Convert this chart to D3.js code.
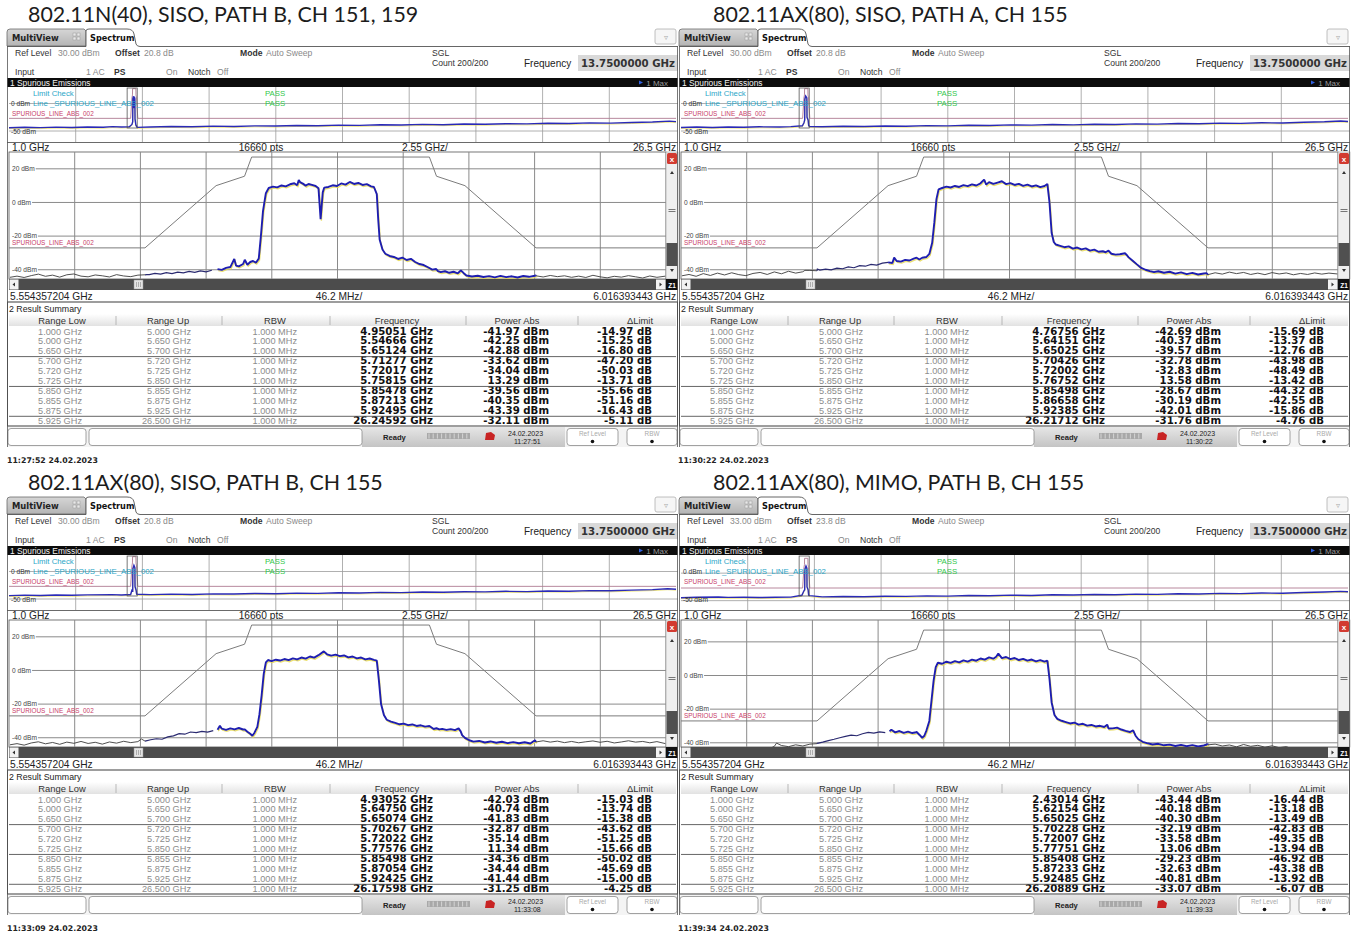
<!DOCTYPE html>
<html>
<head>
<meta charset="utf-8">
<script src="https://cdn.jsdelivr.net/npm/d3@7"></script>
<style>
  html, body { margin: 0; padding: 0; background: #fff; }
  svg { display: block; }
</style>
</head>
<body>
<svg id="chart" width="1359" height="936"></svg>
<script>
// ---------- measurement setup ----------
const titles = [
  "802.11N(40), SISO, PATH B, CH 151, 159",
  "802.11AX(80), SISO, PATH A, CH 155",
  "802.11AX(80), SISO, PATH B, CH 155",
  "802.11AX(80), MIMO, PATH B, CH 155"
];
const refLevels = [30, 30, 30, 33];
const offsetsDb = ["20.8", "20.8", "20.8", "23.8"];
const statusTimes = ["11:27:51", "11:30:22", "11:33:08", "11:39:33"];
const footerTimes = ["11:27:52", "11:30:22", "11:33:09", "11:39:34"];
const measDate = "24.02.2023";

// zoomed span (MHz) and full sweep span (GHz)
const zoomSpanMHz = [5554.357204, 6016.393443];
const fullSpanGHz = [1.0, 26.5];
const mainGridDbm = [20, 0, -20, -40];
const overviewGridDbm = [0, -50];

// result summary ranges
const rangeLowGHz = [1.000, 5.000, 5.650, 5.700, 5.720, 5.725, 5.850, 5.855, 5.875, 5.925];
const rangeUpGHz  = [5.000, 5.650, 5.700, 5.720, 5.725, 5.850, 5.855, 5.875, 5.925, 26.500];
const rbwMHz = 1.000;

// result summary: peak frequency (GHz), power (dBm), margin to limit (dB)
const peakFreqN40B = [4.95051, 5.54666, 5.65124, 5.71277, 5.72017, 5.75815, 5.85478, 5.87213, 5.92495, 26.24592];
const peakPowN40B  = [-41.97, -42.25, -42.88, -33.62, -34.04, 13.29, -39.56, -40.35, -43.39, -32.11];
const deltaN40B    = [-14.97, -15.25, -16.80, -47.20, -50.03, -13.71, -55.66, -51.16, -16.43, -5.11];

const peakFreqAX80A = [4.76756, 5.64151, 5.65025, 5.70426, 5.72002, 5.76752, 5.85498, 5.86658, 5.92385, 26.21712];
const peakPowAX80A  = [-42.69, -40.37, -39.57, -32.78, -32.83, 13.58, -28.67, -30.19, -42.01, -31.76];
const deltaAX80A    = [-15.69, -13.37, -12.76, -43.98, -48.49, -13.42, -44.32, -42.55, -15.86, -4.76];

const peakFreqAX80B = [4.93052, 5.64750, 5.65074, 5.70267, 5.72022, 5.77576, 5.85498, 5.87054, 5.92425, 26.17598];
const peakPowAX80B  = [-42.03, -40.74, -41.83, -32.87, -35.14, 11.34, -34.36, -34.44, -41.44, -31.25];
const deltaAX80B    = [-15.03, -13.74, -15.38, -43.62, -51.25, -15.66, -50.02, -45.69, -15.00, -4.25];

const peakFreqMIMO = [2.43014, 5.62154, 5.65025, 5.70228, 5.72007, 5.77751, 5.85408, 5.87233, 5.92485, 26.20889];
const peakPowMIMO  = [-43.44, -40.18, -40.30, -32.19, -33.58, 13.06, -29.23, -32.63, -40.81, -33.07];
const deltaMIMO    = [-16.44, -13.18, -13.49, -42.83, -49.35, -13.94, -46.92, -43.38, -13.92, -6.07];

// spurious emission limit line (MHz, dBm)
const limitFreqMHz = [5554.357204, 5650, 5700, 5720, 5725, 5850, 5855, 5875, 5925, 6016.393443];
const limitDbm     = [-27, -27, 10, 15.6, 27, 27, 15.6, 10, -27, -27];

// zoomed traces (MHz, dBm)
const traceN40B = [
  [5555,-44.5],[5560,-43.8],[5565,-44.6],[5570,-43.5],[5575,-42.6],[5580,-43.9],[5585,-43.2],[5590,-44.4],
  [5595,-43.0],[5600,-42.5],[5605,-43.8],[5610,-44.2],[5615,-43.1],[5620,-43.6],[5625,-44.3],[5630,-42.9],
  [5635,-43.7],[5640,-44.1],[5645,-43.2],[5650,-43.0],
  [5653,-42.9],[5657,-42.2],[5661,-42.6],[5665,-41.7],[5669,-42.3],[5673,-41.4],[5677,-41.9],[5681,-41.0],
  [5685,-41.6],[5689,-40.7],[5693,-41.2],[5697,-40.3],[5701,-39.6],[5704,-40.1],[5707,-38.9],[5710,-38.4],
  [5714,-37.5],[5716,-38.0],[5719,-36.6],[5722,-37.0],[5724,-35.4],[5726,-34.8],[5728,-35.8],[5730,-33.4],
  [5731.5,-20],[5733,-5],[5735,5.5],[5737,8.6],[5740,9.4],[5743,9.0],[5746,10.1],[5749,9.6],[5752,10.8],
  [5755,11.4],[5757,10.2],[5759,12.1],[5761,11.2],[5763,10.0],[5765,11.0],[5768,10.3],[5770,9.8],[5772,8.5],
  [5773.5,-10],[5775,6.0],[5776,8.8],[5779,9.2],[5782,10.2],[5785,9.8],[5788,11.3],[5791,10.6],[5794,12.2],
  [5797,11.0],[5800,11.6],[5803,10.4],[5806,10.9],[5809,9.6],[5811,9.2],[5813,5],[5814,-10],[5815,-22],
  [5817,-28],[5819,-30.5],[5822,-31.8],[5825,-32.4],[5828,-33.6],[5831,-32.8],[5834,-34.2],[5837,-33.5],
  [5840,-35.4],[5843,-36.6],[5846,-37.2],[5849,-38.5],[5852,-39.9],[5856,-40.8],[5858,-41.4],[5861,-40.9],
  [5864,-41.8],[5867,-41.2],[5870,-42.1],[5874,-41.9],[5876,-43.4],[5880,-44.0],[5884,-43.6],[5888,-44.3],
  [5892,-43.8],[5896,-44.5],[5900,-43.6],[5904,-44.4],[5908,-43.9],[5912,-44.6],[5916,-43.7],[5920,-44.2],
  [5925,-43.6],
  [5930,-44.3],[5935,-43.4],[5940,-44.1],[5945,-43.6],[5950,-44.5],[5955,-43.8],[5960,-44.6],[5965,-43.3],
  [5970,-44.2],[5975,-44.8],[5980,-43.9],[5985,-44.4],[5990,-43.5],[5995,-44.2],[6000,-44.9],[6005,-43.7],
  [6010,-44.5],[6016,-43.8]
];
const traceAX80A = [
  [5555,-43.6],[5560,-42.8],[5565,-43.9],[5570,-42.3],[5575,-43.4],[5580,-42.0],[5585,-43.1],[5590,-41.8],
  [5595,-42.9],[5600,-43.5],[5605,-42.2],[5610,-41.6],[5615,-42.8],[5620,-41.3],[5625,-42.4],[5630,-40.9],
  [5635,-42.0],[5640,-41.2],[5645,-40.4],[5650,-40.6],
  [5652,-40.2],[5656,-39.6],[5660,-40.1],[5664,-39.0],[5668,-39.4],[5672,-38.3],[5676,-38.8],[5680,-37.6],
  [5684,-37.9],[5688,-36.8],[5692,-37.2],[5696,-36.1],[5700,-35.6],[5703,-36.0],[5706,-34.8],[5709,-35.2],
  [5712,-34.1],[5715,-34.5],[5718,-33.4],[5722,-33.9],[5724,-32.9],[5727,-32.4],[5729,-30.6],[5731,-24],
  [5732.5,-12],[5734,2],[5735.5,7.8],[5738,8.6],[5741,9.4],[5744,8.9],[5747,9.8],[5750,9.2],[5753,10.3],
  [5756,9.7],[5759,10.8],[5762,10.1],[5765,11.4],[5769,10.6],[5771,12.1],[5774,11.0],[5777,11.8],[5780,12.6],
  [5783,10.9],[5786,11.5],[5789,10.4],[5792,11.1],[5795,9.9],[5798,10.6],[5801,9.5],[5804,10.2],[5807,9.1],
  [5810,9.8],[5812,11.0],[5813.5,0],[5815,-18],[5816.5,-23.5],[5818,-25.0],[5821,-25.8],[5824,-26.6],
  [5827,-26.1],[5830,-27.4],[5833,-26.8],[5836,-27.9],[5839,-27.3],[5842,-28.6],[5845,-28.0],[5848,-29.3],
  [5851,-29.0],[5853,-29.6],[5857,-30.5],[5860,-31.0],[5863,-30.8],[5868,-31.4],[5869,-32.5],[5872,-34.6],
  [5875,-36.8],[5878,-38.9],[5881,-40.0],[5884,-40.8],[5887,-41.4],[5890,-40.9],[5894,-41.8],[5898,-41.2],
  [5902,-42.3],[5906,-41.6],[5910,-42.6],[5914,-41.9],[5918,-42.8],[5922,-42.2],[5925,-42.9],
  [5930,-41.8],[5935,-42.6],[5940,-41.4],[5945,-42.3],[5950,-41.6],[5955,-42.8],[5960,-42.0],[5965,-42.9],
  [5970,-41.7],[5975,-42.5],[5980,-41.9],[5985,-43.0],[5990,-42.2],[5995,-42.8],[6000,-41.9],[6005,-42.6],
  [6010,-42.0],[6016,-42.5]
];
const traceAX80B = [
  [5555,-44.2],[5560,-43.5],[5565,-44.4],[5570,-43.1],[5575,-42.4],[5580,-43.6],[5585,-42.8],[5590,-43.9],
  [5595,-42.6],[5600,-43.3],[5605,-42.2],[5610,-43.4],[5615,-42.7],[5620,-43.8],[5625,-42.5],[5630,-43.2],
  [5635,-42.1],[5640,-42.9],[5645,-42.3],[5650,-42.0],
  [5654,-41.2],[5658,-40.6],[5662,-40.9],[5666,-39.5],[5670,-38.9],[5674,-37.6],[5678,-37.9],[5682,-36.6],
  [5686,-37.0],[5690,-36.2],[5694,-36.7],[5698,-35.8],[5701,-35.2],[5704,-34.6],[5707,-35.3],[5710,-34.4],
  [5713,-35.0],[5716,-34.2],[5719,-35.1],[5722,-36.4],[5724,-37.6],[5725.5,-38.8],[5727,-37.0],[5729,-33.5],
  [5730.5,-26],[5732,-15],[5733.5,-2],[5735,4.8],[5736.5,6.2],[5739,5.6],[5742,6.4],[5745,5.9],[5748,6.8],
  [5751,6.1],[5754,7.2],[5757,6.6],[5760,7.7],[5763,7.0],[5766,8.3],[5769,7.6],[5772,9.1],[5778,9.6],
  [5781,8.8],[5784,9.4],[5787,8.5],[5790,8.9],[5793,7.8],[5796,8.3],[5799,7.2],[5802,7.7],[5805,6.6],
  [5808,7.1],[5811,6.3],[5813,5.8],[5814.5,-6],[5816,-20],[5818,-26.5],[5820,-29.3],[5823,-30.4],[5826,-31.2],
  [5829,-32.0],[5832,-31.6],[5835,-32.5],[5838,-32.1],[5841,-33.0],[5844,-32.6],[5847,-33.4],[5850,-33.0],
  [5853,-34.8],[5857,-35.0],[5859,-34.7],[5862,-35.3],[5865,-34.9],[5868,-35.5],[5872,-36.2],[5873,-38.4],
  [5875,-40.1],[5878,-41.5],[5881,-42.3],[5885,-41.9],[5889,-42.8],[5893,-42.2],[5897,-43.0],[5901,-42.4],
  [5905,-43.2],[5909,-42.6],[5913,-43.3],[5917,-42.7],[5921,-43.4],[5925,-42.5],
  [5930,-41.8],[5935,-42.6],[5940,-42.0],[5945,-42.9],[5950,-42.2],[5955,-43.0],[5960,-42.4],[5965,-41.9],
  [5970,-42.7],[5975,-42.1],[5980,-43.1],[5985,-42.5],[5990,-41.8],[5995,-42.6],[6000,-42.2],[6005,-43.0],
  [6010,-42.3],[6016,-43.5]
];
const traceMIMO = [
  [5555,-45.0],[5560,-44.2],[5565,-45.3],[5570,-44.0],[5575,-44.8],[5580,-43.9],[5585,-45.1],[5590,-44.3],
  [5595,-44.9],[5600,-43.8],[5605,-44.6],[5610,-43.5],[5615,-44.2],[5620,-42.1],[5625,-41.6],[5630,-42.3],
  [5635,-41.2],[5640,-41.9],[5645,-40.8],[5650,-40.5],
  [5654,-39.6],[5658,-38.7],[5662,-37.9],[5666,-37.0],[5670,-36.2],[5674,-35.4],[5678,-35.8],[5682,-34.6],
  [5686,-33.8],[5690,-34.3],[5694,-33.5],[5698,-34.0],[5701,-33.2],[5705,-33.8],[5708,-33.0],[5711,-34.1],
  [5714,-33.4],[5717,-34.2],[5719,-33.9],[5722,-35.2],[5724,-37.0],[5725.5,-35.8],[5727,-32.6],[5729,-27],
  [5730.5,-15],[5732,-3],[5733.5,5.0],[5735,7.6],[5738,7.0],[5741,8.2],[5744,7.5],[5747,8.6],[5750,7.8],
  [5753,9.0],[5756,8.3],[5759,9.4],[5762,8.8],[5765,10.1],[5768,9.4],[5771,10.8],[5774,10.0],[5776,11.2],
  [5780,10.3],[5783,11.0],[5786,9.7],[5789,10.4],[5792,9.2],[5795,9.9],[5798,8.8],[5801,9.5],[5804,8.4],
  [5807,9.1],[5810,8.2],[5812,8.9],[5813.5,-2],[5815,-16],[5817,-23.5],[5819,-25.8],[5822,-26.9],[5825,-27.7],
  [5828,-28.5],[5831,-28.0],[5834,-29.2],[5837,-28.7],[5840,-29.8],[5843,-29.4],[5846,-30.3],[5849,-29.9],
  [5852,-30.6],[5855,-31.5],[5858,-31.4],[5861,-31.0],[5864,-32.1],[5867,-32.9],[5870,-33.6],[5874,-35.8],
  [5876,-37.9],[5879,-39.4],[5882,-40.2],[5886,-41.0],[5890,-40.6],[5894,-41.5],[5898,-41.1],[5902,-41.9],
  [5906,-41.3],[5910,-42.0],[5914,-41.4],[5918,-42.2],[5922,-41.6],[5925,-41.2],
  [5930,-40.8],[5935,-41.9],[5940,-41.3],[5945,-42.4],[5950,-41.0],[5955,-42.1],[5960,-41.5],[5965,-42.6],
  [5970,-41.8],[5975,-42.9],[5980,-42.3],[5985,-43.8],[5990,-44.6],[5995,-43.9],[6000,-44.8],[6005,-44.2],
  [6010,-45.0],[6016,-44.5]
];

// full-span overview traces (GHz, dBm)
const overviewN40B = [
  [1.0,-44.0],[1.6,-43.1],[2.2,-43.8],[2.8,-42.9],[3.4,-43.5],[4.0,-42.6],[4.6,-43.2],[4.95,-42.0],[5.3,-42.7],
  [5.6,-42.3],[5.70,-38],[5.73,-33],[5.735,9],[5.76,13.3],[5.775,-8],[5.79,12.1],[5.812,9],[5.818,-28],
  [5.85,-39],[5.9,-43.4],[6.4,-42.6],[7.2,-41.8],[8.0,-42.3],[8.8,-41.2],[9.6,-41.7],[10.4,-40.6],[11.2,-41.0],
  [12.0,-39.9],[12.8,-40.4],[13.6,-39.3],[14.4,-39.8],[15.2,-38.7],[16.0,-39.1],[16.8,-38.0],[17.6,-38.5],
  [18.4,-37.4],[19.2,-37.8],[20.0,-36.7],[20.8,-37.1],[21.6,-36.0],[22.4,-36.4],[23.2,-35.3],[24.0,-35.7],
  [24.8,-34.5],[25.6,-33.6],[26.25,-32.1],[26.5,-33.0]
];
const overviewAX80A = [
  [1.0,-43.6],[1.6,-42.8],[2.2,-43.5],[2.8,-42.6],[3.4,-43.2],[4.0,-42.4],[4.77,-42.7],[5.2,-42.1],[5.64,-40.4],
  [5.70,-35],[5.73,-30],[5.735,8],[5.767,13.6],[5.812,10],[5.818,-25],[5.86,-30],[5.88,-40],[5.92,-42.0],
  [6.4,-42.2],[7.2,-41.5],[8.0,-41.9],[8.8,-40.8],[9.6,-41.3],[10.4,-40.2],[11.2,-40.7],[12.0,-39.6],
  [12.8,-40.0],[13.6,-38.9],[14.4,-39.4],[15.2,-38.3],[16.0,-38.8],[16.8,-37.7],[17.6,-38.1],[18.4,-37.0],
  [19.2,-37.5],[20.0,-36.4],[20.8,-36.8],[21.6,-35.7],[22.4,-36.1],[23.2,-35.0],[24.0,-35.4],[24.8,-34.2],
  [25.6,-33.3],[26.22,-31.8],[26.5,-32.6]
];
const overviewAX80B = [
  [1.0,-43.8],[1.6,-42.9],[2.2,-43.6],[2.8,-42.7],[3.4,-43.3],[4.0,-42.5],[4.93,-42.0],[5.3,-42.6],[5.65,-41.8],
  [5.70,-34],[5.73,-35],[5.735,5],[5.776,11.3],[5.813,7],[5.818,-27],[5.86,-34],[5.88,-41],[5.92,-41.4],
  [6.4,-42.0],[7.2,-41.2],[8.0,-41.7],[8.8,-40.6],[9.6,-41.0],[10.4,-39.9],[11.2,-40.4],[12.0,-39.3],
  [12.8,-39.7],[13.6,-38.6],[14.4,-39.1],[15.2,-38.0],[16.0,-38.4],[16.8,-37.3],[17.6,-37.8],[18.4,-36.7],
  [19.2,-37.1],[20.0,-36.0],[20.8,-36.5],[21.6,-35.4],[22.4,-35.8],[23.2,-34.7],[24.0,-35.1],[24.8,-33.9],
  [25.6,-32.9],[26.18,-31.3],[26.5,-32.2]
];
const overviewMIMO = [
  [1.0,-44.6],[1.6,-43.9],[2.43,-43.4],[2.8,-44.1],[3.4,-43.7],[4.0,-44.3],[4.6,-43.8],[5.2,-43.5],[5.62,-40.2],
  [5.70,-32],[5.73,-30],[5.735,7],[5.778,13.1],[5.813,9],[5.818,-25],[5.86,-30],[5.88,-40],[5.92,-40.8],
  [6.4,-43.2],[7.2,-42.5],[8.0,-42.9],[8.8,-41.9],[9.6,-42.3],[10.4,-41.3],[11.2,-41.7],[12.0,-40.7],
  [12.8,-41.1],[13.6,-40.0],[14.4,-40.5],[15.2,-39.4],[16.0,-39.8],[16.8,-38.8],[17.6,-39.2],[18.4,-38.1],
  [19.2,-38.5],[20.0,-37.5],[20.8,-37.9],[21.6,-36.8],[22.4,-37.2],[23.2,-36.1],[24.0,-36.5],[24.8,-35.3],
  [25.6,-34.4],[26.21,-33.1],[26.5,-33.8]
];

// ---------- drawing ----------
const svg = d3.select("#chart");
svg.append("rect").attr("width", 1359).attr("height", 936).attr("fill", "#fff");

const SANS = "'Liberation Sans', Arial, sans-serif";
const BOLD = "'DejaVu Sans', Verdana, sans-serif";

function txt(g, x, y, s, o = {}) {
  return g.append("text")
    .attr("x", x).attr("y", y)
    .attr("font-family", o.family || SANS)
    .attr("font-size", o.size || 8.5)
    .attr("font-weight", o.weight || "normal")
    .attr("fill", o.fill || "#333")
    .attr("text-anchor", o.anchor || "start")
    .text(s);
}

const panels = [
  { dx: 0,   dy: 0,   titleX: 28, trace: traceN40B,  overview: overviewN40B,  freq: peakFreqN40B,  pow: peakPowN40B,  delta: deltaN40B },
  { dx: 672, dy: 0,   titleX: 41, trace: traceAX80A, overview: overviewAX80A, freq: peakFreqAX80A, pow: peakPowAX80A, delta: deltaAX80A },
  { dx: 0,   dy: 468, titleX: 28, trace: traceAX80B, overview: overviewAX80B, freq: peakFreqAX80B, pow: peakPowAX80B, delta: deltaAX80B },
  { dx: 672, dy: 468, titleX: 41, trace: traceMIMO,  overview: overviewMIMO,  freq: peakFreqMIMO,  pow: peakPowMIMO,  delta: deltaMIMO }
];
panels.forEach((p, i) => {
  p.title = titles[i]; p.ref = refLevels[i]; p.offset = offsetsDb[i];
  p.status = statusTimes[i]; p.footer = footerTimes[i]; p.id = i;
});

const defs = svg.append("defs");
const tabGrad = defs.append("linearGradient").attr("id", "tabGrad").attr("x1", 0).attr("y1", 0).attr("x2", 0).attr("y2", 1);
tabGrad.append("stop").attr("offset", 0).attr("stop-color", "#d6d6d6");
tabGrad.append("stop").attr("offset", 1).attr("stop-color", "#b4b4b4");
const hdrGrad = defs.append("linearGradient").attr("id", "hdrGrad").attr("x1", 0).attr("y1", 0).attr("x2", 0).attr("y2", 1);
hdrGrad.append("stop").attr("offset", 0).attr("stop-color", "#ffffff");
hdrGrad.append("stop").attr("offset", 1).attr("stop-color", "#e2e2e2");
const statGrad = defs.append("linearGradient").attr("id", "statGrad").attr("x1", 0).attr("y1", 0).attr("x2", 0).attr("y2", 1);
statGrad.append("stop").attr("offset", 0).attr("stop-color", "#e6e6e6");
statGrad.append("stop").attr("offset", 1).attr("stop-color", "#c4c4c4");

function drawPanel(p) {
  const g = svg.append("g").attr("transform", `translate(${p.dx},${p.dy})`);
  const FL = 7, FR = 678;

  // title above the screenshot
  txt(g, p.titleX, 22, p.title, { family: "Lato, 'Open Sans', sans-serif", size: 21.4, fill: "#1c1c1c" });

  // ----- tab bar -----
  g.append("path")
    .attr("d", `M${FL},46 L${FL},32 Q${FL},29 ${FL + 3},29 L84,29 L86,31 L86,46 Z`)
    .attr("fill", "url(#tabGrad)").attr("stroke", "#6a6a6a").attr("stroke-width", 0.8);
  txt(g, 12, 41, "MultiView", { family: BOLD, size: 8.4, weight: "bold", fill: "#222" });
  const icon = g.append("g").attr("transform", "translate(73,33)");
  [[0, 0], [4, 0], [0, 4], [4, 4]].forEach(([a, b]) =>
    icon.append("rect").attr("x", a).attr("y", b).attr("width", 3).attr("height", 3).attr("fill", "#e8e8e8").attr("stroke", "#9a9a9a").attr("stroke-width", 0.5));
  g.append("path")
    .attr("d", `M${FL},46.5 L86,46.5 L86,31 Q86,29 89,29 L127,29 Q133,29 134,34 L136,44 Q137,46.5 140,46.5 L${FR},46.5`)
    .attr("fill", "#fff").attr("stroke", "#555").attr("stroke-width", 0.9);
  txt(g, 90, 41, "Spectrum", { family: BOLD, size: 8.2, weight: "bold", fill: "#111" });
  g.append("rect").attr("x", 655).attr("y", 29).attr("width", 21).attr("height", 15).attr("rx", 2)
    .attr("fill", "#f6f6f6").attr("stroke", "#b0b0b0").attr("stroke-width", 0.8);
  txt(g, 665.5, 40, "\u25BF", { size: 8, fill: "#aaa", anchor: "middle" });

  // ----- header -----
  g.append("rect").attr("x", FL).attr("y", 47).attr("width", FR - FL).attr("height", 31).attr("fill", "#fff");
  const hv = { size: 8.6, fill: "#8a8a8a" }, hl = { size: 8.6, fill: "#333" };
  txt(g, 15, 56, "Ref Level", hl); txt(g, 58, 56, `${p.ref.toFixed(2)} dBm`, hv);
  txt(g, 115, 56, "Offset", { ...hl, weight: "bold" }); txt(g, 144, 56, `${p.offset} dB`, hv);
  txt(g, 240, 56, "Mode", { ...hl, weight: "bold" }); txt(g, 266, 56, "Auto Sweep", hv);
  txt(g, 432, 56, "SGL", hl); txt(g, 432, 66, "Count 200/200", hl);
  txt(g, 524, 67, "Frequency", { size: 10, fill: "#222" });
  g.append("rect").attr("x", 578).attr("y", 55).attr("width", 100).attr("height", 16).attr("fill", "#d9d9d9");
  txt(g, 581, 67, "13.7500000 GHz", { family: BOLD, size: 10.2, weight: "bold", fill: "#333" });
  txt(g, 15, 75, "Input", hl); txt(g, 86, 75, "1 AC", hv); txt(g, 114, 75, "PS", { ...hl, weight: "bold" });
  txt(g, 166, 75, "On", hv); txt(g, 188, 75, "Notch", hl); txt(g, 217, 75, "Off", hv);

  // ----- window title bar -----
  g.append("rect").attr("x", FL).attr("y", 78).attr("width", FR - FL).attr("height", 9).attr("fill", "#0c0c0c");
  txt(g, 10, 86, "1 Spurious Emissions", { size: 8.4, fill: "#f2f2f2" });
  g.append("path").attr("d", "M639,80.5 L643,82.5 L639,84.5 Z").attr("fill", "#3060e0");
  txt(g, 668, 86, "1 Max", { size: 8, fill: "#9a9a9a", anchor: "end" });

  // ----- full-span overview -----
  const oX0 = 9, oX1 = 676, oY0 = 87, oY1 = 142;
  const xo = d3.scaleLinear().domain(fullSpanGHz).range([oX0, oX1]);
  const yo = d3.scaleLinear().domain([p.ref, p.ref - 100]).range([oY0, oY1]);
  g.append("rect").attr("x", FL).attr("y", oY0).attr("width", FR - FL).attr("height", oY1 - oY0).attr("fill", "#fff");
  const ostep = (fullSpanGHz[1] - fullSpanGHz[0]) / 10;
  g.append("g").selectAll("line").data(d3.range(1, 10)).join("line")
    .attr("x1", k => xo(fullSpanGHz[0] + k * ostep)).attr("x2", k => xo(fullSpanGHz[0] + k * ostep))
    .attr("y1", oY0).attr("y2", oY1).attr("stroke", "#9c9c9c").attr("stroke-width", 0.8);
  g.append("g").selectAll("line").data(overviewGridDbm).join("line")
    .attr("x1", oX0).attr("x2", FR).attr("y1", d => yo(d)).attr("y2", d => yo(d))
    .attr("stroke", "#9c9c9c").attr("stroke-width", 0.8);

  const clipO = `clipO${p.id}`;
  defs.append("clipPath").attr("id", clipO).append("rect")
    .attr("x", FL).attr("y", oY0).attr("width", FR - FL).attr("height", oY1 - oY0);
  const og = g.append("g").attr("clip-path", `url(#${clipO})`);
  const olimit = limitFreqMHz.map((f, k) => [f / 1000, limitDbm[k]]);
  olimit[0] = [fullSpanGHz[0], limitDbm[0]];
  olimit[olimit.length - 1] = [fullSpanGHz[1], limitDbm[limitDbm.length - 1]];
  og.append("path").datum(olimit)
    .attr("d", d3.line().x(d => xo(d[0])).y(d => yo(d[1])))
    .attr("fill", "none").attr("stroke", "#b07a92").attr("stroke-width", 0.9);
  og.append("path").datum(p.overview)
    .attr("d", d3.line().x(d => xo(d[0])).y(d => yo(d[1])))
    .attr("fill", "none").attr("stroke", "#e6d84a").attr("stroke-width", 1).attr("opacity", 0.7)
    .attr("transform", "translate(0,1)");
  og.append("path").datum(p.overview)
    .attr("d", d3.line().x(d => xo(d[0])).y(d => yo(d[1])))
    .attr("fill", "none").attr("stroke", "#2a2ab8").attr("stroke-width", 1.4);
  // zoom window marker
  g.append("rect").attr("x", xo(zoomSpanMHz[0] / 1000) - 1).attr("y", 88)
    .attr("width", xo(zoomSpanMHz[1] / 1000) - xo(zoomSpanMHz[0] / 1000) - 2).attr("height", 40)
    .attr("fill", "none").attr("stroke", "#555").attr("stroke-width", 0.8);

  txt(g, 33, 96, "Limit Check", { size: 7.8, fill: "#2aa6c8" });
  txt(g, 265, 96, "PASS", { size: 7.8, fill: "#33c84a" });
  txt(g, 11, 106, "0 dBm", { size: 6.6, fill: "#333" });
  txt(g, 33, 106, "Line _SPURIOUS_LINE_ABS_002", { size: 7.8, fill: "#2aa6c8" });
  txt(g, 265, 106, "PASS", { size: 7.8, fill: "#33c84a" });
  txt(g, 12, 116, "SPURIOUS_LINE_ABS_002", { size: 6.4, fill: "#c8406a" });
  txt(g, 11, 134, "-50 dBm", { size: 6.6, fill: "#333" });

  // span annotation row
  g.append("line").attr("x1", FL).attr("x2", FR).attr("y1", oY1 + 0.5).attr("y2", oY1 + 0.5).attr("stroke", "#444").attr("stroke-width", 0.8);
  txt(g, 12, 151, `${fullSpanGHz[0].toFixed(1)} GHz`, { size: 10.2, fill: "#222" });
  txt(g, 261, 151, "16660 pts", { size: 10.2, fill: "#222", anchor: "middle" });
  txt(g, 425, 151, `${ostep.toFixed(2)} GHz/`, { size: 10.2, fill: "#222", anchor: "middle" });
  txt(g, 676, 151, `${fullSpanGHz[1].toFixed(1)} GHz`, { size: 10.2, fill: "#222", anchor: "end" });

  // ----- zoomed main diagram -----
  const mX0 = 9, mX1 = 666, mY0 = 152, mY1 = 279;
  const x = d3.scaleLinear().domain(zoomSpanMHz).range([mX0, mX1]);
  const y = d3.scaleLinear().domain([p.ref, p.ref - 75.5]).range([mY0, mY1]);
  g.append("rect").attr("x", mX0).attr("y", mY0).attr("width", mX1 - mX0).attr("height", mY1 - mY0)
    .attr("fill", "#fff").attr("stroke", "#555").attr("stroke-width", 0.8);
  const mstep = (zoomSpanMHz[1] - zoomSpanMHz[0]) / 10;
  g.append("g").selectAll("line").data(d3.range(1, 10)).join("line")
    .attr("x1", k => x(zoomSpanMHz[0] + k * mstep)).attr("x2", k => x(zoomSpanMHz[0] + k * mstep))
    .attr("y1", mY0).attr("y2", mY1).attr("stroke", "#8a8a8a").attr("stroke-width", 1);
  const gridG = g.append("g");
  mainGridDbm.forEach(d => {
    const t = txt(gridG, 12, y(d) + 2.3, `${d} dBm`, { size: 6.6, fill: "#444" });
    const w = t.node().getComputedTextLength();
    gridG.append("line").attr("x1", 12 + w + 1).attr("x2", mX1).attr("y1", y(d)).attr("y2", y(d))
      .attr("stroke", "#8a8a8a").attr("stroke-width", 1);
  });

  const clipM = `clipM${p.id}`;
  defs.append("clipPath").attr("id", clipM).append("rect")
    .attr("x", mX0).attr("y", mY0).attr("width", mX1 - mX0).attr("height", mY1 - mY0);
  const mg = g.append("g").attr("clip-path", `url(#${clipM})`);
  const lim = limitFreqMHz.map((f, k) => [f, limitDbm[k]]);
  mg.append("path").datum(lim)
    .attr("d", d3.line().x(d => x(d[0])).y(d => y(d[1])))
    .attr("fill", "none").attr("stroke", "#7c7c7c").attr("stroke-width", 1);

  // trace, with the reported peaks inside the zoomed span as sample points
  const peaks = p.freq.map((f, k) => [f * 1000, p.pow[k]])
    .filter(d => d[0] > zoomSpanMHz[0] && d[0] < zoomSpanMHz[1]);
  const all = p.trace.concat(peaks).sort((a, b) => a[0] - b[0]);
  const line = d3.line().x(d => x(d[0])).y(d => y(d[1]));
  const seg = (a, b) => all.filter(d => d[0] >= a && d[0] <= b);
  mg.append("path").datum(seg(5700, 5925)).attr("d", line)
    .attr("fill", "none").attr("stroke", "#e6d84a").attr("stroke-width", 1.3).attr("opacity", 0.8)
    .attr("transform", "translate(0.8,1.5)");
  mg.append("path").datum(seg(zoomSpanMHz[0], 5650)).attr("d", line)
    .attr("fill", "none").attr("stroke", "#3c3c3c").attr("stroke-width", 0.9);
  mg.append("path").datum(seg(5650, 5700)).attr("d", line)
    .attr("fill", "none").attr("stroke", "#2a2a70").attr("stroke-width", 1.2);
  mg.append("path").datum(seg(5700, 5925)).attr("d", line)
    .attr("fill", "none").attr("stroke", "#1e1eb0").attr("stroke-width", 1.9).attr("stroke-linejoin", "bevel");
  mg.append("path").datum(seg(5925, zoomSpanMHz[1])).attr("d", line)
    .attr("fill", "none").attr("stroke", "#3c3c3c").attr("stroke-width", 0.9);
  txt(g, 12, y(-27) - 2.5, "SPURIOUS_LINE_ABS_002", { size: 6.4, fill: "#c8406a" });

  // vertical scroll column
  g.append("rect").attr("x", mX1).attr("y", mY0).attr("width", FR - mX1).attr("height", mY1 - mY0).attr("fill", "#efefef").attr("stroke", "#999").attr("stroke-width", 0.6);
  g.append("rect").attr("x", mX1 + 1).attr("y", mY0 + 1).attr("width", 10).attr("height", 11).attr("rx", 1.5).attr("fill", "#d23a30");
  txt(g, mX1 + 6, mY0 + 10, "x", { size: 8, weight: "bold", fill: "#fff", anchor: "middle" });
  g.append("path").attr("d", `M${mX1 + 4},${mY0 + 22} L${mX1 + 6},${mY0 + 19} L${mX1 + 8},${mY0 + 22} Z`).attr("fill", "#333");
  g.append("rect").attr("x", mX1 + 2.5).attr("y", mY0 + 57).attr("width", 7).attr("height", 1).attr("fill", "#777");
  g.append("rect").attr("x", mX1 + 2.5).attr("y", mY0 + 59).attr("width", 7).attr("height", 1).attr("fill", "#777");
  g.append("rect").attr("x", mX1 + 0.5).attr("y", mY0 + 91).attr("width", FR - mX1 - 1).attr("height", 23).attr("fill", "#505050");
  g.append("path").attr("d", `M${mX1 + 4},${mY0 + 117} L${mX1 + 6},${mY0 + 120} L${mX1 + 8},${mY0 + 117} Z`).attr("fill", "#333");

  // horizontal scroll bar
  g.append("rect").attr("x", mX0).attr("y", mY1).attr("width", mX1 - mX0).attr("height", 11).attr("fill", "#4c4c4c");
  g.append("rect").attr("x", mX0 + 0.5).attr("y", mY1 + 0.5).attr("width", 9).attr("height", 10).attr("fill", "#f2f2f2");
  g.append("path").attr("d", `M${mX0 + 6},${mY1 + 3.5} L${mX0 + 3.5},${mY1 + 5.5} L${mX0 + 6},${mY1 + 7.5} Z`).attr("fill", "#333");
  g.append("rect").attr("x", 134).attr("y", mY1 + 1).attr("width", 9).attr("height", 9).attr("fill", "#e4e4e4").attr("stroke", "#999").attr("stroke-width", 0.5);
  [136.5, 138.5, 140.5].forEach(xx => g.append("line").attr("x1", xx).attr("x2", xx).attr("y1", mY1 + 3).attr("y2", mY1 + 8).attr("stroke", "#888").attr("stroke-width", 0.6));
  g.append("rect").attr("x", mX1 - 10).attr("y", mY1 + 0.5).attr("width", 9.5).attr("height", 10).attr("fill", "#f2f2f2");
  g.append("path").attr("d", `M${mX1 - 6.5},${mY1 + 3.5} L${mX1 - 4},${mY1 + 5.5} L${mX1 - 6.5},${mY1 + 7.5} Z`).attr("fill", "#333");
  g.append("rect").attr("x", mX1).attr("y", mY1).attr("width", FR - mX1).attr("height", 11).attr("fill", "#111");
  txt(g, mX1 + 6, mY1 + 8.5, "Z1", { size: 6.5, weight: "bold", fill: "#fff", anchor: "middle" });

  txt(g, 10, 300, `${(zoomSpanMHz[0] / 1000).toFixed(9)} GHz`, { size: 10.2, fill: "#222" });
  txt(g, 339, 300, `${mstep.toFixed(1)} MHz/`, { size: 10.2, fill: "#222", anchor: "middle" });
  txt(g, 676, 300, `${(zoomSpanMHz[1] / 1000).toFixed(9)} GHz`, { size: 10.2, fill: "#222", anchor: "end" });

  // ----- result summary table -----
  const tY0 = 302, tY1 = 426;
  g.append("rect").attr("x", FL + 0.5).attr("y", tY0).attr("width", FR - FL - 1).attr("height", tY1 - tY0)
    .attr("fill", "#fff").attr("stroke", "#3c3c3c").attr("stroke-width", 1);
  txt(g, 9, 312, "2 Result Summary", { size: 8.8, fill: "#222" });
  g.append("rect").attr("x", 9).attr("y", 314).attr("width", 667).attr("height", 12).attr("fill", "url(#hdrGrad)");
  const cols = [
    { h: "Range Low", hx: 62, x: 82 },
    { h: "Range Up", hx: 168, x: 191 },
    { h: "RBW", hx: 275, x: 297 },
    { h: "Frequency", hx: 397, x: 433 },
    { h: "Power Abs", hx: 517, x: 549 },
    { h: "\u0394Limit", hx: 640, x: 652 }
  ];
  cols.forEach(c => txt(g, c.hx, 324, c.h, { size: 9.4, fill: "#333", anchor: "middle" }));
  [116, 222, 330, 466, 578].forEach(sx => g.append("line").attr("x1", sx).attr("x2", sx).attr("y1", 316).attr("y2", 325).attr("stroke", "#aaa").attr("stroke-width", 0.8));
  const rowY = k => 334.5 + k * 9.95;
  rangeLowGHz.forEach((v, k) => {
    txt(g, cols[0].x, rowY(k), `${v.toFixed(3)} GHz`, { size: 9.2, fill: "#8c8c8c", anchor: "end" });
    txt(g, cols[1].x, rowY(k), `${rangeUpGHz[k].toFixed(3)} GHz`, { size: 9.2, fill: "#8c8c8c", anchor: "end" });
    txt(g, cols[2].x, rowY(k), `${rbwMHz.toFixed(3)} MHz`, { size: 9.2, fill: "#8c8c8c", anchor: "end" });
    const b = { family: BOLD, size: 10.2, weight: "bold", fill: "#111", anchor: "end" };
    txt(g, cols[3].x, rowY(k), `${p.freq[k].toFixed(5)} GHz`, b);
    txt(g, cols[4].x, rowY(k), `${p.pow[k].toFixed(2)} dBm`, b);
    txt(g, cols[5].x, rowY(k), `${p.delta[k].toFixed(2)} dB`, b);
  });
  [2, 5, 8].forEach(k => g.append("line").attr("x1", 9).attr("x2", 676)
    .attr("y1", rowY(k) + 2.2).attr("y2", rowY(k) + 2.2).attr("stroke", "#555").attr("stroke-width", 0.9));

  // ----- status bar -----
  g.append("rect").attr("x", FL).attr("y", 427).attr("width", FR - FL).attr("height", 20).attr("fill", "#f4f4f4");
  g.append("rect").attr("x", 362).attr("y", 427).attr("width", 203).attr("height", 20).attr("fill", "url(#statGrad)");
  g.append("rect").attr("x", 8).attr("y", 428.5).attr("width", 78).attr("height", 17).attr("rx", 3).attr("fill", "#fff").attr("stroke", "#8a8a8a").attr("stroke-width", 0.8);
  g.append("rect").attr("x", 89).attr("y", 428.5).attr("width", 273).attr("height", 17).attr("rx", 3).attr("fill", "#fff").attr("stroke", "#8a8a8a").attr("stroke-width", 0.8);
  txt(g, 383, 440, "Ready", { size: 7.6, weight: "bold", fill: "#222" });
  g.append("rect").attr("x", 427).attr("y", 433).attr("width", 43).attr("height", 6).attr("fill", "#a8a8a8");
  d3.range(0, 10).forEach(k => g.append("line").attr("x1", 429 + k * 4.2).attr("x2", 429 + k * 4.2).attr("y1", 433.5).attr("y2", 438.5).attr("stroke", "#d4d4d4").attr("stroke-width", 1));
  g.append("path").attr("d", "M485,440 L486,433 L491,432 L495,435 L494,440 Z").attr("fill", "#c82424");
  txt(g, 508, 435.5, measDate, { size: 7, fill: "#222" });
  txt(g, 514, 444, p.status, { size: 7, fill: "#222" });
  g.append("rect").attr("x", 567).attr("y", 428.5).attr("width", 51).attr("height", 17).attr("rx", 3).attr("fill", "#fff").attr("stroke", "#8a8a8a").attr("stroke-width", 0.8);
  txt(g, 592.5, 436, "Ref Level", { size: 6.4, fill: "#aaa", anchor: "middle" });
  g.append("circle").attr("cx", 592.5).attr("cy", 441.5).attr("r", 1.8).attr("fill", "#111");
  g.append("rect").attr("x", 627).attr("y", 428.5).attr("width", 50).attr("height", 17).attr("rx", 3).attr("fill", "#fff").attr("stroke", "#8a8a8a").attr("stroke-width", 0.8);
  txt(g, 652, 436, "RBW", { size: 6.4, fill: "#aaa", anchor: "middle" });
  g.append("circle").attr("cx", 652).attr("cy", 441.5).attr("r", 1.8).attr("fill", "#111");

  // screenshot frame sides
  g.append("line").attr("x1", FL + 0.5).attr("x2", FL + 0.5).attr("y1", 46).attr("y2", 447).attr("stroke", "#555").attr("stroke-width", 0.8);
  g.append("line").attr("x1", FR - 0.5).attr("x2", FR - 0.5).attr("y1", 46).attr("y2", 447).attr("stroke", "#555").attr("stroke-width", 0.8);

  // capture time stamp
  txt(g, p.dx === 0 ? 7 : 6, 463, `${p.footer}  ${measDate}`, { family: BOLD, size: 7.8, weight: "bold", fill: "#222" });
}

panels.forEach(drawPanel);
</script>
</body>
</html>
